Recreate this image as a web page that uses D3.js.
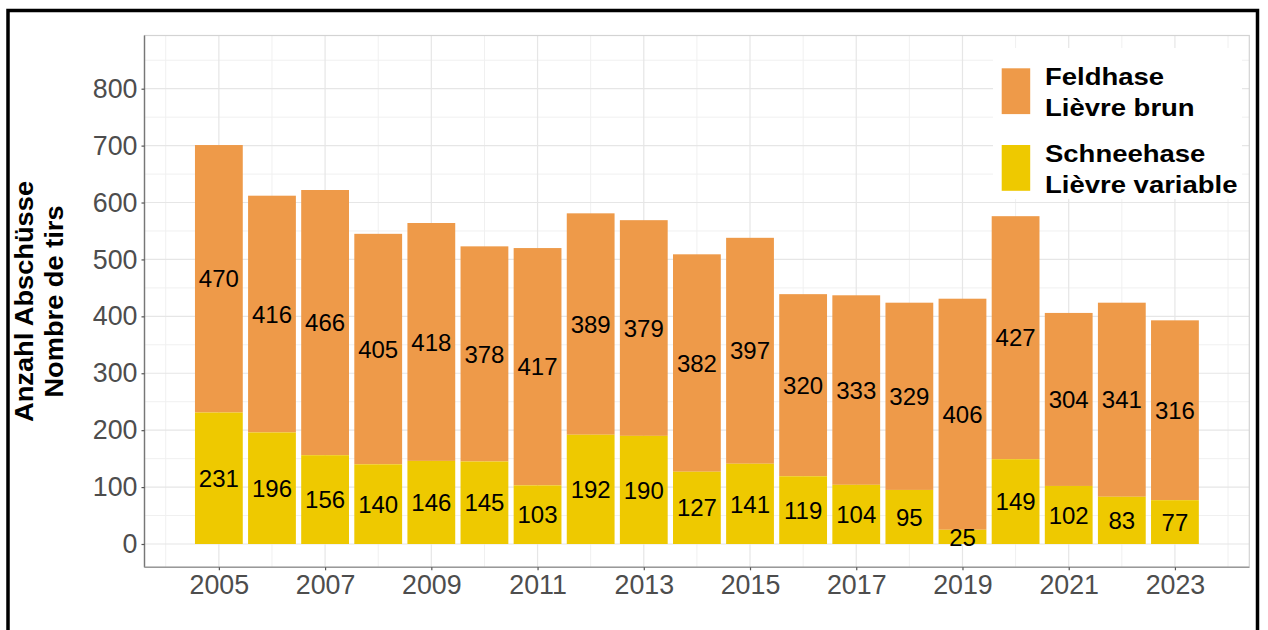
<!DOCTYPE html>
<html>
<head>
<meta charset="utf-8">
<script src="https://cdn.jsdelivr.net/npm/d3@7"></script>
<style>
html,body{margin:0;padding:0;background:#fff;}
svg{display:block;font-family:"Liberation Sans",Arial,sans-serif;}
</style>
</head>
<body>
<svg id="chart" width="1268" height="630"></svg>
<script>
const years = [2005,2006,2007,2008,2009,2010,2011,2012,2013,2014,2015,2016,2017,2018,2019,2020,2021,2022,2023];
const schneehase = [231,196,156,140,146,145,103,192,190,127,141,119,104,95,25,149,102,83,77];
const feldhase = [470,416,466,405,418,378,417,389,379,382,397,320,333,329,406,427,304,341,316];
const yTicks = [0,100,200,300,400,500,600,700,800];
const yMinor = [50,150,250,350,450,550,650,750,850];
const xTicks = [2005,2007,2009,2011,2013,2015,2017,2019,2021,2023];
const xMinor = [2004,2006,2008,2010,2012,2014,2016,2018,2020,2022,2024];
const seriesNames = [["Feldhase","Lièvre brun"],["Schneehase","Lièvre variable"]];
const colors = ["#EE9A49","#EEC900"];
const yTitle = ["Anzahl Abschüsse","Nombre de tirs"];

const svg = d3.select("#chart");
const P = {l:144.5, r:1249.3, t:35.5, b:567.3};
const x = d3.scaleLinear().domain([2003.6,2024.4]).range([P.l,P.r]);
const y = d3.scaleLinear().domain([-41.3,892.6]).range([P.b+0.2,P.t+0.5]);

// outer frame
svg.append("rect").attr("x",8).attr("y",10.5).attr("width",1249.5).attr("height",640)
  .attr("fill","none").attr("stroke","#000").attr("stroke-width",3.5);

// grid
const g = svg.append("g");
g.selectAll(".ymin").data(yMinor).join("line")
  .attr("x1",P.l).attr("x2",P.r).attr("y1",d=>y(d)).attr("y2",d=>y(d))
  .attr("stroke","#f0f0f0").attr("stroke-width",1);
g.selectAll(".xmin").data(xMinor).join("line")
  .attr("y1",P.t).attr("y2",P.b).attr("x1",d=>x(d)).attr("x2",d=>x(d))
  .attr("stroke","#f0f0f0").attr("stroke-width",1);
g.selectAll(".ymaj").data(yTicks).join("line")
  .attr("x1",P.l).attr("x2",P.r).attr("y1",d=>y(d)).attr("y2",d=>y(d))
  .attr("stroke","#e6e6e6").attr("stroke-width",1.2);
g.selectAll(".xmaj").data(xTicks).join("line")
  .attr("y1",P.t).attr("y2",P.b).attr("x1",d=>x(d)).attr("x2",d=>x(d))
  .attr("stroke","#e6e6e6").attr("stroke-width",1.2);

// panel border
svg.append("rect").attr("x",P.l).attr("y",P.t).attr("width",P.r-P.l).attr("height",P.b-P.t)
  .attr("fill","none").attr("stroke","#d3d3d3").attr("stroke-width",1.2);

// bars
const data = years.map((yr,i)=>({year:yr, s:schneehase[i], f:feldhase[i]}));
const bw = 0.45;
svg.append("g").selectAll("rect").data(data).join("rect")
  .attr("x",d=>x(d.year-bw)).attr("width",d=>x(d.year+bw)-x(d.year-bw))
  .attr("y",d=>y(d.s+d.f)).attr("height",d=>y(d.s)-y(d.s+d.f))
  .attr("fill",colors[0]);
svg.append("g").selectAll("rect").data(data).join("rect")
  .attr("x",d=>x(d.year-bw)).attr("width",d=>x(d.year+bw)-x(d.year-bw))
  .attr("y",d=>y(d.s)).attr("height",d=>y(0)-y(d.s))
  .attr("fill",colors[1]);

// value labels
const lab = svg.append("g").attr("font-size","24px").attr("fill","#000").attr("text-anchor","middle");
lab.selectAll(".lf").data(data).join("text")
  .attr("x",d=>x(d.year)).attr("y",d=>y(d.s+d.f/2)).attr("dy","0.36em").text(d=>d.f);
lab.selectAll(".ls").data(data).join("text")
  .attr("x",d=>x(d.year)).attr("y",d=>y(d.s/2)).attr("dy","0.36em").text(d=>d.s);

// axes
const yAxis = d3.axisLeft(y).tickValues(yTicks).tickSize(3).tickPadding(4);
const ya = svg.append("g").attr("transform",`translate(${P.l},0)`).call(yAxis);
ya.select(".domain").attr("d",`M0,${P.t}V${P.b}`).attr("stroke","#777").attr("stroke-width",1.4);
ya.selectAll(".tick line").attr("stroke","#555").attr("stroke-width",1.2);
ya.selectAll(".tick text").attr("font-size","26.8px").attr("fill","#4d4d4d")
  .attr("font-family","Liberation Sans, Arial, sans-serif");

const xAxis = d3.axisBottom(x).tickValues(xTicks).tickFormat(d3.format("d")).tickSize(3).tickPadding(5);
const xa = svg.append("g").attr("transform",`translate(0,${P.b})`).call(xAxis);
xa.select(".domain").attr("d",`M${P.l},0H${P.r}`).attr("stroke","#999").attr("stroke-width",1.4);
xa.selectAll(".tick line").attr("stroke","#555").attr("stroke-width",1.2);
xa.selectAll(".tick text").attr("font-size","26.8px").attr("fill","#4d4d4d")
  .attr("font-family","Liberation Sans, Arial, sans-serif");

// y title
const yt = svg.append("g").attr("transform","translate(33,301.5) rotate(-90) scale(1.09,1)")
  .attr("text-anchor","middle").attr("font-weight","bold").attr("font-size","25px").attr("fill","#000");
yt.append("text").attr("x",0).attr("y",0).text(yTitle[0]);
yt.append("text").attr("x",0).attr("y",30).text(yTitle[1]);

// legend
const lg = svg.append("g");
lg.append("rect").attr("x",993).attr("y",48).attr("width",249).attr("height",151).attr("fill","#fff");
const keyY = [68.3,145];
seriesNames.forEach((nm,i)=>{
  lg.append("rect").attr("x",1001.7).attr("y",keyY[i]).attr("width",28.5).attr("height",45.8).attr("fill",colors[i]);
  nm.forEach((line,j)=>{
    lg.append("text").attr("transform",`translate(1045,${keyY[i]+16.8+j*30.8}) scale(1.17,1)`)
      .attr("font-weight","bold").attr("font-size","23.5px").attr("fill","#000").text(line);
  });
});
</script>
</body>
</html>
